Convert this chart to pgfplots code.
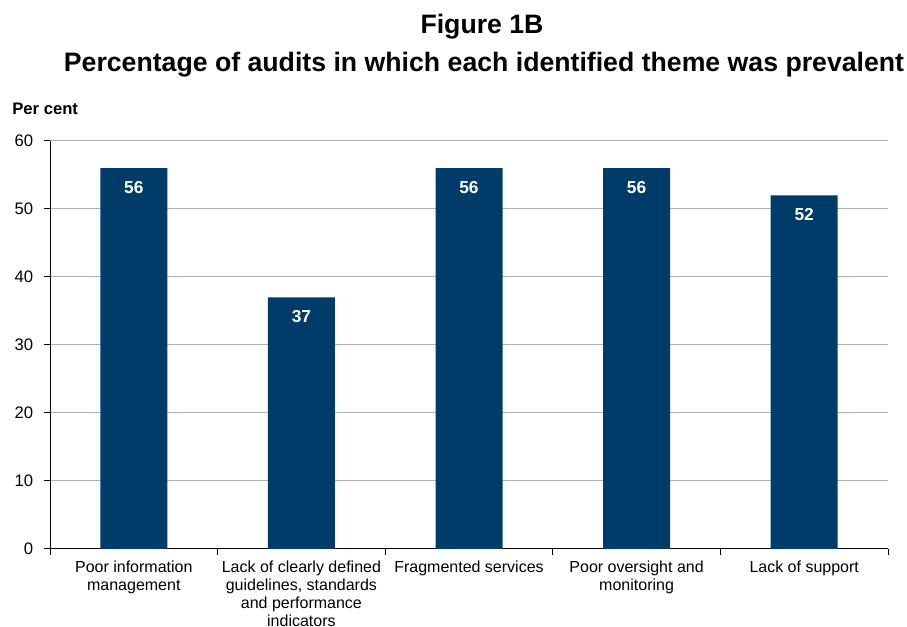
\documentclass[border=0pt]{standalone}
\usepackage{fontspec}
\setmainfont{Liberation Sans}
\usepackage{pgfplots}
\pgfplotsset{compat=1.18}
\definecolor{barblue}{RGB}{0,60,106}
\definecolor{gridgray}{RGB}{175,175,175}
\begin{document}
\begin{tikzpicture}
\useasboundingbox (0,0) rectangle (680.25pt,470.25pt);
\node[anchor=base, font=\fontsize{20}{24}\selectfont\bfseries, inner sep=0pt] at (361.5pt,444.75pt) {Figure 1B};
\node[anchor=base, font=\fontsize{20}{24}\selectfont\bfseries, inner sep=0pt] at (363pt,416.5pt) {Percentage of audits in which each identified theme was prevalent};
\node[anchor=base west, font=\fontsize{12.5}{15}\selectfont\bfseries, inner sep=0pt] at (9pt,384pt) {Per cent};
\begin{axis}[
  at={(37.5pt,58.5pt)}, anchor=south west,
  scale only axis, width=628.5pt, height=306pt,
  ymin=0, ymax=60, ytick={0,10,...,60},
  xmin=-0.5, xmax=4.5,
  xtick={-0.5,0.5,1.5,2.5,3.5,4.5},
  x tick label as interval,
  xticklabels={{Poor information\\management},
    {Lack of clearly defined\\guidelines, standards\\and performance\\indicators},
    {Fragmented services},
    {Poor oversight and\\monitoring},
    {Lack of support}, {}},
  axis x line*=bottom, axis y line*=left,
  axis line style={black, line width=0.75pt},
  tick align=outside,
  major tick length=4.5pt,
  tick style={black, line width=0.75pt},
  ymajorgrids, grid style={gridgray, line width=0.75pt},
  /pgf/number format/assume math mode=true,
  yticklabel style={font=\fontsize{12.5}{15}\selectfont, anchor=east, inner sep=0pt, xshift=-8pt},
  xticklabel style={font=\fontsize{12}{13.7}\selectfont, align=center, anchor=north, inner sep=0pt, yshift=-4pt},
  ybar, bar width=50.25pt, bar shift=0pt,
  nodes near coords,
  every node near coord/.append style={anchor=center, yshift=-14.5pt, text=white, font=\fontsize{13}{15}\selectfont\bfseries},
  clip=false,
]
\addplot[fill=barblue, draw=none] coordinates {(0,56) (1,37) (2,56) (3,56) (4,52)};
\end{axis}
\end{tikzpicture}
\end{document}
